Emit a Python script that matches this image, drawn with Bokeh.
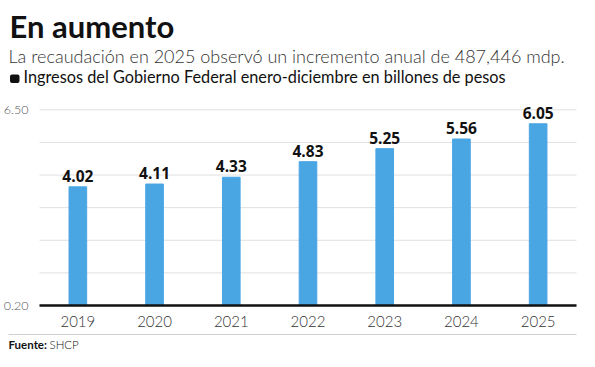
from bokeh.plotting import figure
from bokeh.models import (ColumnDataSource, Range1d, FixedTicker, Label, BoxAnnotation,
                          LabelSet, LinearAxis)
from bokeh.core.properties import value
from bokeh.embed import file_html
from bokeh.resources import INLINE

years = ["2019", "2020", "2021", "2022", "2023", "2024", "2025"]
values = [4.02, 4.11, 4.33, 4.83, 5.25, 5.56, 6.05]
value_labels = ["4.02", "4.11", "4.33", "4.83", "5.25", "5.56", "6.05"]
y_min, y_max = 0.20, 6.50
grid_ticks = [0.20, 1.25, 2.30, 3.35, 4.40, 5.45, 6.50]
axis_ticks = [0.20, 6.50]
axis_tick_labels = ["0.20", "6.50"]

title = "En aumento"
subtitle = "La recaudación en 2025 observó un incremento anual de 487,446 mdp."
unit_line = "Ingresos del Gobierno Federal enero-diciembre en billones de pesos"
source_bold = "Fuente:"
source_text = "SHCP"

BAR = "#4aa6e3"
FONT = "Lato"
LIGHT = "Lato Light"

W, H = 595, 367
n = len(years)
xs = [i + 0.5 for i in range(n)]

# frame covers the whole canvas; axes sit at fixed data locations inside it
PLOT_L, PLOT_R = 39, 576          # pixel extent of the category area
Y_TOP_PX, Y_BOT_PX = 109.3, 305.0  # pixel rows of y_max and y_min
ux = (PLOT_R - PLOT_L) / n
uy = (Y_BOT_PX - Y_TOP_PX) / (y_max - y_min)
x_range = Range1d(-PLOT_L / ux, n + (W - PLOT_R) / ux)
y_range = Range1d(y_min - (H - Y_BOT_PX) / uy, y_max + Y_TOP_PX / uy)

src = ColumnDataSource(dict(x=xs, top=values, lab=value_labels, bottom=[y_min] * n))
grid_src = ColumnDataSource(dict(y=grid_ticks, x0=[0] * len(grid_ticks), x1=[n] * len(grid_ticks)))

p = figure(width=W, height=H, x_range=x_range, y_range=y_range,
           output_backend="svg", toolbar_location=None, x_axis_location=None,
           y_axis_location=None, min_border=0)
p.outline_line_color = None
p.background_fill_color = "white"
p.grid.visible = False

# gridlines
p.segment(x0="x0", x1="x1", y0="y", y1="y", source=grid_src, line_color="#e0e0e0", line_width=1)

# bars
p.vbar(x="x", top="top", bottom="bottom", width=0.23, source=src, color=BAR)

p.add_layout(LabelSet(x="x", y="top", text="lab", source=src, text_align="center",
                      text_baseline="alphabetic", y_offset=5, text_font_size=value("15.5px"),
                      text_font_style="bold", text_font=value("Open Sans"), text_color="#111111"))

# y axis
yaxis = LinearAxis(ticker=FixedTicker(ticks=axis_ticks), fixed_location=0,
                   major_label_overrides={t: s for t, s in zip(axis_ticks, axis_tick_labels)})
yaxis.axis_line_color = None
yaxis.major_tick_line_color = None
yaxis.minor_tick_line_color = None
yaxis.major_label_standoff = 5
yaxis.major_label_text_font_size = "12.5px"
yaxis.major_label_text_color = "#555555"
yaxis.major_label_text_font = LIGHT
p.add_layout(yaxis, "left")

# x axis (baseline)
xaxis = LinearAxis(ticker=FixedTicker(ticks=xs), fixed_location=y_min, bounds=(0, n),
                   major_label_overrides={x: y for x, y in zip(xs, years)})
xaxis.axis_line_color = "#111111"
xaxis.axis_line_width = 2.5
xaxis.major_tick_line_color = None
xaxis.minor_tick_line_color = None
xaxis.major_label_standoff = 4
xaxis.major_label_text_font_size = "15px"
xaxis.major_label_text_color = "#333333"
xaxis.major_label_text_font = LIGHT
p.add_layout(xaxis, "below")

# header texts (screen units: origin at canvas bottom-left)
p.add_layout(Label(x=9, y=H - 25, x_units="screen", y_units="screen", text=title,
                   text_font=FONT, text_font_style="bold", text_font_size="31px",
                   text_color="#111111", text_baseline="alphabetic"))
p.add_layout(Label(x=8, y=H - 55.5, x_units="screen", y_units="screen", text=subtitle,
                   text_font=LIGHT, text_font_size="18px", text_color="#333333",
                   text_baseline="alphabetic"))
p.add_layout(BoxAnnotation(left=9.5, right=19, bottom=H - 82.5, top=H - 74,
                           left_units="screen", right_units="screen",
                           bottom_units="screen", top_units="screen",
                           fill_color="#111111", fill_alpha=1, line_color=None,
                           border_radius=2))
p.add_layout(Label(x=23, y=H - 75.5, x_units="screen", y_units="screen", text=unit_line,
                   text_font=FONT, text_font_size="16.3px", text_color="#111111",
                   text_baseline="alphabetic"))

# separator and source
p.add_layout(BoxAnnotation(left=8, right=PLOT_R, bottom=H - 334.5, top=H - 333.5,
                           left_units="screen", right_units="screen",
                           bottom_units="screen", top_units="screen",
                           fill_color="#cfcfcf", fill_alpha=1, line_color=None))
p.add_layout(Label(x=8, y=H - 344, x_units="screen", y_units="screen", text=source_bold,
                   text_font=FONT, text_font_style="bold", text_font_size="11.5px",
                   text_color="#111111", text_baseline="middle"))
p.add_layout(Label(x=49, y=H - 344, x_units="screen", y_units="screen", text=source_text,
                   text_font=LIGHT, text_font_size="11.5px",
                   text_color="#111111", text_baseline="middle"))

open("out.html", "w").write(file_html(p, INLINE))
